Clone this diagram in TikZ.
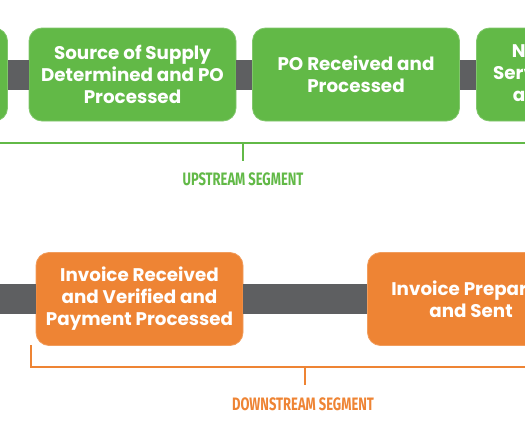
\documentclass[tikz,border=0pt]{standalone}
\usepackage{fontspec}
\setmainfont{Poppins}
\newfontfamily\segfont[FakeStretch=0.72]{Fira Sans}
\usetikzlibrary{positioning}

\definecolor{stepgreen}{RGB}{98,185,71}
\definecolor{steporange}{RGB}{238,132,52}
\definecolor{bargray}{RGB}{94,95,97}

\tikzset{
  stepbox/.style={rounded corners=13pt, minimum width=207pt, minimum height=93pt,
    align=center, text=white, font=\fontsize{18.3}{22}\selectfont\bfseries, inner sep=0pt},
  upbox/.style={stepbox, fill=stepgreen, draw=stepgreen!80!white, line width=0.8pt},
  downbox/.style={stepbox, fill=steporange, draw=steporange!80!white, line width=0.8pt},
  bar/.style={bargray, line width=30pt},
  segline/.style={line width=2.2pt},
  seglabel/.style={font=\segfont\bfseries\fontsize{18}{18}\selectfont}
}

\begin{document}
\begin{tikzpicture}[x=1pt, y=-1pt]
  \useasboundingbox (0,0) rectangle (525,431);
  \clip (0,0) rectangle (525,431);

  % top row
  \node[upbox] (b0) at (-96,74.5) {};
  \node[upbox] (b1) at (132.5,74.5) {Source of Supply\\Determined and PO\\Processed};
  \node[upbox] (b2) at (356,74.5) {PO Received and\\Processed};
  \node[upbox] (b3) at (580,74.5) {Need for Items\\Services Identified\\and Approved};
  \draw[bar] (b0.east) -- (b1.west);
  \draw[bar] (b1.east) -- (b2.west);
  \draw[bar] (b2.east) -- (b3.west);

  % upstream bracket
  \coordinate (ul) at (-5,143);
  \coordinate (ur) at (530,143);
  \coordinate (ut) at (243,143);
  \coordinate (ue) at (243,161);
  \draw[segline, stepgreen] (ul) -- (ur);
  \draw[segline, stepgreen] (ut) -- (ue);
  \node[seglabel, text=stepgreen] (up) at (243,179.5) {UPSTREAM SEGMENT};

  % bottom row
  \node[downbox] (b4) at (139.5,299) {Invoice Received\\and Verified and\\Payment Processed};
  \node[downbox] (b5) at (471,299) {Invoice Prepared\\and Sent};
  \coordinate (bl) at (-5,299);
  \draw[bar] (bl) -- (b4.west);
  \draw[bar] (b4.east) -- (b5.west);

  % downstream bracket
  \coordinate (dl) at (31,345);
  \coordinate (dc) at (31,367);
  \coordinate (dr) at (530,367);
  \coordinate (dt) at (305,367);
  \coordinate (de) at (305,385);
  \draw[segline, steporange] (dl) -- (dc) -- (dr);
  \draw[segline, steporange] (dt) -- (de);
  \node[seglabel, text=steporange] (down) at (303,404) {DOWNSTREAM SEGMENT};
\end{tikzpicture}
\end{document}
